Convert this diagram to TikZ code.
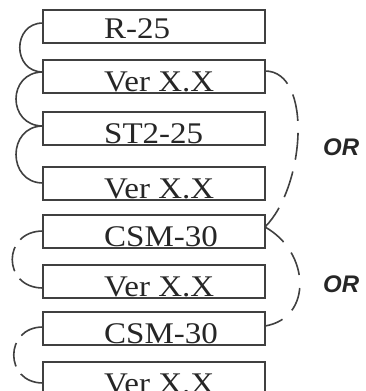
\documentclass[tikz,border=0pt]{standalone}
\usepackage{fontspec}
\setmainfont{Liberation Serif}
\newfontfamily\boxfont[FakeStretch=1.1]{Liberation Serif}
\newfontfamily\orfont{Liberation Sans}
\usetikzlibrary{calc}
\begin{document}
\begin{tikzpicture}[x=1pt,y=-1pt,
  box/.style={draw=black!75, line width=1.1pt, minimum width=222pt, minimum height=33pt, inner sep=0pt, outer sep=0pt, anchor=north west},
  lbl/.style={font=\boxfont\fontsize{30}{36}\selectfont, text=black!85, inner sep=0pt, anchor=base west},
  ortxt/.style={font=\orfont\bfseries\itshape\fontsize{24}{28}\selectfont, text=black!85, inner sep=0pt, anchor=base west},
  link/.style={draw=black!75, line width=1.6pt},
]
\useasboundingbox (0,0) rectangle (365,391);
% boxes
\node[box] (b1) at (43,10) {};
\node[box] (b2) at (43,60) {};
\node[box] (b3) at (43,112) {};
\node[box] (b4) at (43,167) {};
\node[box] (b5) at (43,215) {};
\node[box] (b6) at (43,265) {};
\node[box] (b7) at (43,312) {};
\node[box] (b8) at (43,362) {};
% labels
\node[lbl] (t1) at ($(b1.south west)+(61,-5)$) {R-25};
\node[lbl] (t2) at ($(b2.south west)+(61,-2)$) {Ver X.X};
\node[lbl] (t3) at ($(b3.south west)+(61,-2)$) {ST2-25};
\node[lbl] (t4) at ($(b4.south west)+(61,-2)$) {Ver X.X};
\node[lbl] (t5) at ($(b5.south west)+(61,-2)$) {CSM-30};
\node[lbl] (t6) at ($(b6.south west)+(61,-2)$) {Ver X.X};
\node[lbl] (t7) at ($(b7.south west)+(61,-2)$) {CSM-30};
\node[lbl] (t8) at ($(b8.south west)+(61,-2)$) {Ver X.X};
% attachment points
\coordinate (l1) at ($(b1.north west)+(0,13)$);
\coordinate (l2) at ($(b2.north west)+(0,12)$);
\coordinate (l3) at ($(b3.north west)+(0,14)$);
\coordinate (l4) at ($(b4.north west)+(0,16)$);
\coordinate (l5) at ($(b5.north west)+(0,16)$);
\coordinate (l6) at ($(b6.north west)+(0,23)$);
\coordinate (l7) at ($(b7.north west)+(0,15)$);
\coordinate (l8) at ($(b8.north west)+(0,21)$);
\coordinate (r2) at ($(b2.north east)+(0,11)$);
\coordinate (r5) at ($(b5.north east)+(0,12)$);
\coordinate (r7) at ($(b7.north east)+(0,14)$);
% left solid links
\draw[link] (l1) .. controls +(-31,0) and +(-31,0) .. (l2);
\draw[link] (l2) .. controls +(-36,0) and +(-36,0) .. (l3);
\draw[link] (l3) .. controls +(-36,0) and +(-36,0) .. (l4);
% left dashed links
\draw[link, dash pattern=on 25pt off 9pt] (l5) .. controls +(-41,0) and +(-41,0) .. (l6);
\draw[link, dash pattern=on 24pt off 9pt] (l7) .. controls +(-39,0) and +(-39,0) .. (l8);
% right dashed links
\draw[link, dash pattern=on 27pt off 12pt] (r2) .. controls +(48,0) and +(40,-40) .. (r5);
\draw[link, dash pattern=on 24pt off 13pt] (r5) .. controls +(45,25) and +(48,-8) .. (r7);
% OR labels
\node[ortxt] (or1) at (323,155) {OR};
\node[ortxt] (or2) at (323,292) {OR};
\end{tikzpicture}
\end{document}
